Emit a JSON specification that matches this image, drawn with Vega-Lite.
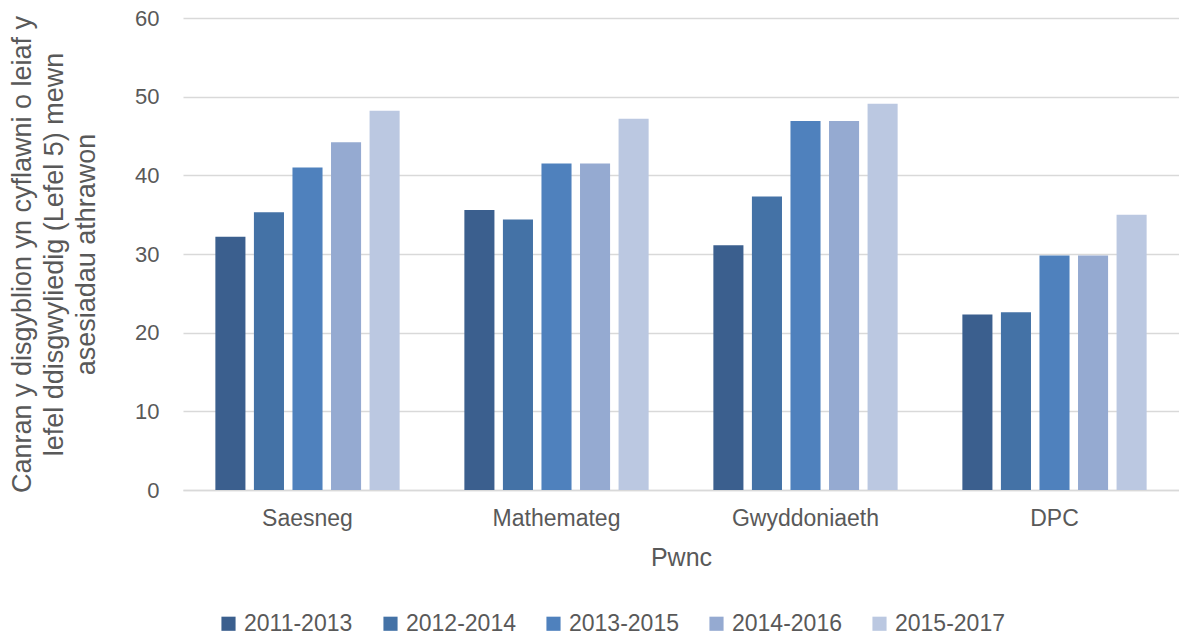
{
  "$schema": "https://vega.github.io/schema/vega-lite/v6.json",
  "width": 996,
  "height": 472,
  "autosize": {"type": "none"},
  "padding": {"left": 183, "top": 18, "right": 0, "bottom": 146},
  "background": "white",
  "config": {
    "font": "Liberation Sans",
    "view": {"stroke": null},
    "axis": {"labelFont": "Liberation Sans", "titleFont": "Liberation Sans", "labelColor": "#595959", "titleColor": "#595959", "titleFontWeight": "normal"}
  },
  "data": {
    "values": [
      {"Pwnc": "Saesneg", "cyfnod": "2011-2013", "gwerth": 32.2},
      {"Pwnc": "Saesneg", "cyfnod": "2012-2014", "gwerth": 35.3},
      {"Pwnc": "Saesneg", "cyfnod": "2013-2015", "gwerth": 41.0},
      {"Pwnc": "Saesneg", "cyfnod": "2014-2016", "gwerth": 44.2},
      {"Pwnc": "Saesneg", "cyfnod": "2015-2017", "gwerth": 48.2},
      {"Pwnc": "Mathemateg", "cyfnod": "2011-2013", "gwerth": 35.6},
      {"Pwnc": "Mathemateg", "cyfnod": "2012-2014", "gwerth": 34.4},
      {"Pwnc": "Mathemateg", "cyfnod": "2013-2015", "gwerth": 41.5},
      {"Pwnc": "Mathemateg", "cyfnod": "2014-2016", "gwerth": 41.5},
      {"Pwnc": "Mathemateg", "cyfnod": "2015-2017", "gwerth": 47.2},
      {"Pwnc": "Gwyddoniaeth", "cyfnod": "2011-2013", "gwerth": 31.1},
      {"Pwnc": "Gwyddoniaeth", "cyfnod": "2012-2014", "gwerth": 37.3},
      {"Pwnc": "Gwyddoniaeth", "cyfnod": "2013-2015", "gwerth": 46.9},
      {"Pwnc": "Gwyddoniaeth", "cyfnod": "2014-2016", "gwerth": 46.9},
      {"Pwnc": "Gwyddoniaeth", "cyfnod": "2015-2017", "gwerth": 49.1},
      {"Pwnc": "DPC", "cyfnod": "2011-2013", "gwerth": 22.3},
      {"Pwnc": "DPC", "cyfnod": "2012-2014", "gwerth": 22.6},
      {"Pwnc": "DPC", "cyfnod": "2013-2015", "gwerth": 29.8},
      {"Pwnc": "DPC", "cyfnod": "2014-2016", "gwerth": 29.8},
      {"Pwnc": "DPC", "cyfnod": "2015-2017", "gwerth": 35.0}
    ]
  },
  "mark": {"type": "bar"},
  "encoding": {
    "x": {
      "field": "Pwnc", "type": "nominal",
      "sort": ["Saesneg", "Mathemateg", "Gwyddoniaeth", "DPC"],
      "scale": {"paddingInner": 0.26, "paddingOuter": 0.13},
      "axis": {"title": "Pwnc", "labelAngle": 0, "labelFontSize": 23, "titleFontSize": 25, "labelPadding": 17, "titlePadding": 15, "ticks": false, "domainColor": "#d9d9d9", "domainWidth": 1.5}
    },
    "xOffset": {
      "field": "cyfnod", "type": "nominal",
      "scale": {"paddingInner": 0.22, "paddingOuter": 0}
    },
    "y": {
      "field": "gwerth", "type": "quantitative",
      "scale": {"domain": [0, 60]},
      "axis": {
        "title": ["Canran y disgyblion yn cyflawni o leiaf y", "lefel ddisgwyliedig (Lefel 5) mewn", "asesiadau athrawon"],
        "values": [0, 10, 20, 30, 40, 50, 60],
        "labelFontSize": 22, "titleFontSize": 27, "labelPadding": 24, "titlePadding": 34, "titleLineHeight": 32,
        "ticks": false, "domain": false, "gridColor": "#d9d9d9", "gridWidth": 1.5
      }
    },
    "color": {
      "field": "cyfnod", "type": "nominal",
      "scale": {"domain": ["2011-2013", "2012-2014", "2013-2015", "2014-2016", "2015-2017"], "range": ["#3b5f8e", "#4472a6", "#4f81bd", "#95aad1", "#bbc8e1"]},
      "legend": {"title": null, "orient": "none", "direction": "horizontal", "legendX": 34, "legendY": 594, "symbolType": "square", "symbolSize": 200, "symbolStrokeWidth": 0, "labelFontSize": 23, "labelColor": "#595959", "labelFont": "Liberation Sans", "columnPadding": 26, "symbolOffset": 0, "labelOffset": 4}
    }
  }
}
